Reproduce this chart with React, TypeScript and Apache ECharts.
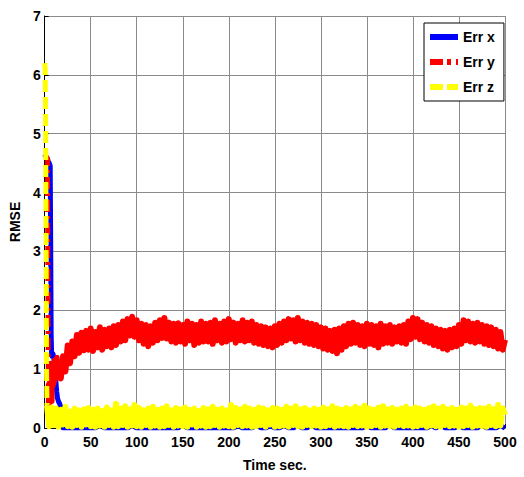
import React, { useEffect, useRef } from "react";
import * as echarts from "echarts";

const seriesNames = ["Err x", "Err y", "Err z"];
const seriesColors = ["#0000ff", "#ff0000", "#ffff00"];

// Err x (blue): start-up transient, then regular samples
const blueStartTime = [0, 1, 2, 3, 4, 5, 6, 6.5, 7, 7.5, 8, 9, 10, 11, 12, 13, 14, 15, 16, 17, 18, 19];
const blueStartValue = [4.65, 4.62, 4.6, 4.58, 4.52, 4.5, 4.45, 3.2, 1.6, 1.28, 1.22, 1.26, 1.18, 1.0, 0.82, 0.62, 0.5, 0.45, 0.42, 0.38, 0.15, 0.02];
const blueSteadyStart = 20;
const blueSteadyStep = 5;
const blueSteady = [
  0, 0, 0, 0, 0, 0, 0, 0, 0.05, 0,
  0, 0, 0, 0, 0, 0.04, 0, 0, 0, 0,
  0, 0, 0, 0, 0, 0, 0.05, 0, 0, 0,
  0, 0, 0, 0, 0, 0, 0, 0, 0.04, 0,
  0, 0, 0.05, 0, 0, 0.04, 0, 0, 0.05, 0,
  0, 0.04, 0, 0, 0.05, 0, 0, 0, 0, 0,
  0, 0, 0, 0, 0, 0, 0.04, 0, 0, 0,
  0, 0.05, 0, 0, 0, 0, 0, 0, 0, 0,
  0.04, 0, 0.05, 0, 0, 0, 0.04, 0, 0, 0,
  0, 0.05, 0, 0, 0, 0.04, 0,
];

// Err y (red)
const redStartTime = [0, 1, 2, 3, 3.5, 4, 4.5, 5, 5.5, 6, 6.5, 7, 7.5, 8, 8.5, 9, 9.5, 10, 10.5, 11, 11.5, 12, 12.5, 13, 13.5, 14, 14.5];
const redStartValue = [4.6, 4.62, 4.6, 4.58, 2.5, 0.4, 1.0, 0.3, 0.9, 0.5, 1.1, 0.6, 1.0, 0.45, 1.05, 0.7, 1.1, 0.75, 1.15, 0.8, 1.1, 0.9, 1.18, 0.85, 1.2, 0.95, 1.15];
const redSteadyStart = 15;
const redSteadyStep = 2.5;
const redSteady = [
  1.14, 0.84, 1.22, 0.96, 1.4, 1.1, 1.47, 1.22,
  1.58, 1.28, 1.62, 1.32, 1.65, 1.33, 1.69, 1.31,
  1.63, 1.37, 1.71, 1.33, 1.67, 1.39, 1.69, 1.37,
  1.73, 1.41, 1.75, 1.47, 1.81, 1.49, 1.85, 1.57,
  1.89, 1.55, 1.83, 1.49, 1.77, 1.43, 1.75, 1.39,
  1.73, 1.45, 1.79, 1.49, 1.83, 1.53, 1.87, 1.52,
  1.79, 1.47, 1.77, 1.45, 1.78, 1.47, 1.75, 1.43,
  1.81, 1.49, 1.77, 1.41, 1.75, 1.45, 1.81, 1.47,
  1.77, 1.47, 1.79, 1.43, 1.83, 1.49, 1.77, 1.45,
  1.81, 1.47, 1.85, 1.51, 1.79, 1.45, 1.77, 1.49,
  1.83, 1.47, 1.79, 1.49, 1.81, 1.45, 1.75, 1.43,
  1.73, 1.41, 1.71, 1.39, 1.69, 1.37, 1.73, 1.41,
  1.77, 1.45, 1.81, 1.49, 1.85, 1.52, 1.83, 1.47,
  1.87, 1.49, 1.81, 1.45, 1.79, 1.43, 1.77, 1.41,
  1.75, 1.39, 1.71, 1.35, 1.69, 1.33, 1.65, 1.31,
  1.67, 1.27, 1.69, 1.33, 1.73, 1.39, 1.77, 1.43,
  1.79, 1.45, 1.75, 1.41, 1.73, 1.39, 1.77, 1.43,
  1.75, 1.41, 1.73, 1.37, 1.77, 1.43, 1.73, 1.45,
  1.75, 1.43, 1.71, 1.47, 1.73, 1.45, 1.75, 1.43,
  1.81, 1.51, 1.87, 1.55, 1.85, 1.51, 1.79, 1.47,
  1.75, 1.45, 1.73, 1.41, 1.69, 1.39, 1.67, 1.35,
  1.65, 1.33, 1.67, 1.37, 1.69, 1.39, 1.75, 1.43,
  1.83, 1.49, 1.81, 1.47, 1.77, 1.45, 1.79, 1.47,
  1.75, 1.43, 1.73, 1.41, 1.71, 1.39, 1.67, 1.35,
  1.63, 1.33, 1.5,
];

// Err z (yellow)
const yellowStartTime = [0, 0.5, 1, 1.5, 2, 2.5];
const yellowStartValue = [6.2, 6.1, 5.2, 3.2, 1.0, 0.38];
const yellowSteadyStart = 2.5;
const yellowSteadyStep = 2.5;
const yellowSteady = [
  0.38, 0.03, 0.35, 0.05, 0.33, 0.02, 0.31, 0.06, 0.36, 0.03,
  0.28, 0.02, 0.33, 0.05, 0.3, 0.02, 0.32, 0.06, 0.34, 0.03,
  0.31, 0.02, 0.33, 0.04, 0.29, 0.02, 0.35, 0.05, 0.3, 0.02,
  0.41, 0.03, 0.33, 0.05, 0.37, 0.02, 0.32, 0.04, 0.39, 0.03,
  0.34, 0.02, 0.3, 0.05, 0.33, 0.02, 0.36, 0.04, 0.31, 0.02,
  0.33, 0.03, 0.37, 0.05, 0.3, 0.02, 0.34, 0.04, 0.32, 0.03,
  0.35, 0.02, 0.31, 0.06, 0.33, 0.02, 0.29, 0.04, 0.34, 0.02,
  0.32, 0.03, 0.36, 0.05, 0.31, 0.02, 0.33, 0.04, 0.3, 0.03,
  0.39, 0.02, 0.34, 0.05, 0.32, 0.03, 0.36, 0.04, 0.33, 0.02,
  0.31, 0.03, 0.35, 0.05, 0.33, 0.02, 0.3, 0.06, 0.34, 0.02,
  0.33, 0.03, 0.31, 0.04, 0.36, 0.02, 0.33, 0.05, 0.37, 0.03,
  0.32, 0.02, 0.34, 0.05, 0.3, 0.03, 0.33, 0.04, 0.31, 0.02,
  0.35, 0.03, 0.32, 0.05, 0.37, 0.02, 0.33, 0.04, 0.31, 0.03,
  0.34, 0.02, 0.32, 0.05, 0.36, 0.03, 0.33, 0.04, 0.38, 0.02,
  0.33, 0.03, 0.31, 0.05, 0.35, 0.02, 0.37, 0.04, 0.32, 0.03,
  0.34, 0.02, 0.31, 0.05, 0.33, 0.03, 0.36, 0.04, 0.32, 0.02,
  0.35, 0.03, 0.33, 0.05, 0.31, 0.02, 0.34, 0.04, 0.37, 0.03,
  0.33, 0.02, 0.36, 0.05, 0.32, 0.03, 0.34, 0.04, 0.31, 0.02,
  0.35, 0.03, 0.33, 0.05, 0.38, 0.02, 0.32, 0.04, 0.34, 0.03,
  0.33, 0.02, 0.36, 0.05, 0.32, 0.03, 0.39, 0.04, 0.33, 0.22,
];

const xMin = 0, xMax = 500, xStep = 50;
const yMin = 0, yMax = 7, yStep = 1;

// legend sample shapes (28 x 6 box): solid, dash-dot, dashed
const legendIcons = [
  "path://M0 0H28V6H0Z",
  "path://M0 0H13V6H0Z M17 0H21V6H17Z M26 0H28V6H26Z",
  "path://M0 0H13V6H0Z M17 0H28V6H17Z",
];

function pairs(times: number[], vals: number[]) {
  return times.map((t, i) => [t, vals[i]] as [number, number]);
}
function steadyPairs(s0: number, step: number, vals: number[]) {
  return vals.map((v, i) => [s0 + i * step, v] as [number, number]);
}

const FONT = '"Liberation Sans", Arial, Helvetica, sans-serif';

export default function App() {
  const ref = useRef<HTMLDivElement>(null);
  useEffect(() => {
    if (!ref.current) return;
    const chart = echarts.init(ref.current, undefined, { renderer: "svg" });
    const blue = [...pairs(blueStartTime, blueStartValue), ...steadyPairs(blueSteadyStart, blueSteadyStep, blueSteady)];
    const redA = [...pairs(redStartTime, redStartValue), [redSteadyStart, redSteady[0]]];
    const redB = steadyPairs(redSteadyStart, redSteadyStep, redSteady);
    const yelA = pairs(yellowStartTime, yellowStartValue);
    const yelB = steadyPairs(yellowSteadyStart, yellowSteadyStep, yellowSteady);
    const labelStyle = { color: "#000", fontWeight: "bold" as const, fontSize: 14, fontFamily: FONT };
    const lineSeries = (name: string, color: string, data: any, width: number, type: any, z: number) => ({
      name,
      type: "line",
      data,
      showSymbol: false,
      symbol: "none",
      color,
      itemStyle: { color },
      lineStyle: { color, width, type, join: "round", cap: "butt" },
      z,
    });
    chart.setOption({
      animation: false,
      backgroundColor: "#fff",
      grid: { left: 41, right: 19, top: 16, bottom: 44, containLabel: false },
      legend: {
        orient: "vertical",
        left: 424,
        top: 23,
        padding: [7, 9, 7, 6],
        itemGap: 11,
        itemWidth: 28,
        itemHeight: 6,
        itemTextGap: 4 as any,
        backgroundColor: "#fff",
        borderColor: "#000",
        borderWidth: 1,
        borderRadius: 0,
        itemStyle: { borderWidth: 0 },
        textStyle: labelStyle,
        data: seriesNames.map((n, i) => ({ name: n, icon: legendIcons[i] })),
      } as any,
      xAxis: {
        type: "value",
        min: xMin,
        max: xMax,
        interval: xStep,
        name: "Time sec.",
        nameLocation: "middle",
        nameGap: 30,
        nameTextStyle: labelStyle,
        axisLine: { show: true, lineStyle: { color: "#000", width: 1 } },
        axisTick: { show: true, inside: true, length: 4, lineStyle: { color: "#000" } },
        axisLabel: { ...labelStyle, margin: 7 },
        splitLine: { show: true, lineStyle: { color: "#8a8a8a", width: 1 } },
      },
      yAxis: {
        type: "value",
        min: yMin,
        max: yMax,
        interval: yStep,
        name: "RMSE",
        nameLocation: "middle",
        nameGap: 16,
        nameTextStyle: labelStyle,
        axisLine: { show: true, lineStyle: { color: "#000", width: 1 } },
        axisTick: { show: true, inside: true, length: 4, lineStyle: { color: "#000" } },
        axisLabel: { ...labelStyle, margin: 4 },
        splitLine: { show: true, lineStyle: { color: "#8a8a8a", width: 1 } },
      },
      series: [
        lineSeries(seriesNames[0], seriesColors[0], blue, 5, "solid", 2),
        lineSeries(seriesNames[1], seriesColors[1], redA, 5, [12, 4, 3, 4], 3),
        lineSeries(seriesNames[1], seriesColors[1], redB, 6, "solid", 3),
        lineSeries(seriesNames[2], seriesColors[2], yelA, 5, [12, 5], 4),
        lineSeries(seriesNames[2], seriesColors[2], yelB, 6, "solid", 4),
      ],
    });
    return () => chart.dispose();
  }, []);
  return <div ref={ref} style={{ position: "absolute", left: 0, top: 0, width: 524, height: 477 }} />;
}
